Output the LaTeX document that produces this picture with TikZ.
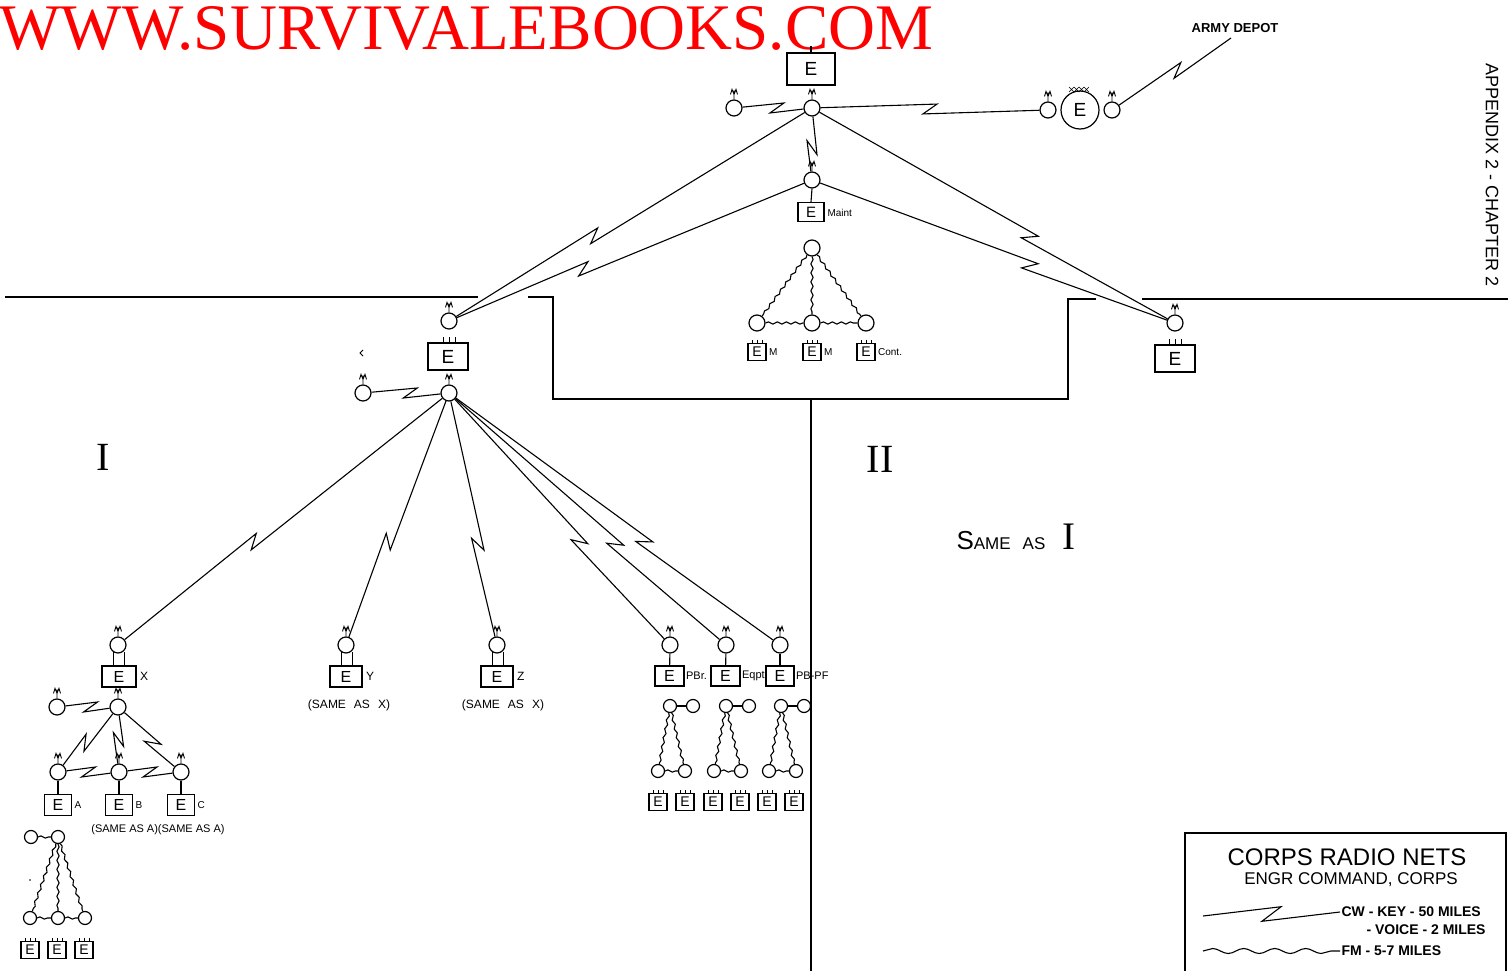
\documentclass[tikz,border=0pt]{standalone}
\usepackage{fontspec}
\setmainfont{Liberation Sans}
\newfontfamily\serifrm{Liberation Serif}
\usetikzlibrary{calc,decorations.pathmorphing}
\newcommand\fsz[1]{\fontsize{#1}{#1}\selectfont}
% zigzag (CW) connector: [size]{from}{to}{fraction}
\newcommand\zz[4][1]{%
  \path ($(#2)!#4!(#3)$) coordinate (zzp);
  \path ($(zzp)!#1*7pt!(#3)$) coordinate (zza) ($(zzp)!-#1*7pt!(#3)$) coordinate (zzb);
  \draw (#2) -- ($(zza)!#1*5pt!90:(#3)$) -- ($(zzb)!#1*5pt!-90:(#3)$) -- (#3);}
% small box with ticks on top
\newcommand\sbx[3]{%
  \node[sbox] (#1) at (#2,#3) {E};
  \draw[line width=0.8pt] (#1.north) ++(-5,0) -- ++(0,-3) (#1.north) -- ++(0,-3) (#1.north) ++(5,0) -- ++(0,-3);}
\tikzset{
  rcirc/.style={circle, draw, line width=1.2pt, minimum size=16pt, inner sep=0pt},
  scirc/.style={circle, draw, line width=1.2pt, minimum size=13pt, inner sep=0pt},
  ebox/.style={draw, line width=1.2pt, minimum width=40pt, minimum height=27pt, inner sep=0pt, font=\fsz{19}},
  mbox/.style={draw, line width=1.2pt, minimum width=33pt, minimum height=21pt, inner sep=0pt, font=\fsz{16}},
  sbox/.style={draw, line width=1.2pt, minimum width=18pt, minimum height=17pt, inner sep=0pt, font=\fsz{14}},
  fmw/.style={decorate, decoration={snake, amplitude=1.1pt, segment length=9pt}},
  lbl/.style={inner sep=0pt, anchor=west, font=\fsz{11}},
  ant/.pic={\draw[line width=0.9pt] (0,0)--(0,-9) (-3.5,-5)--(-2,-10)--(0,-5)--(2,-10)--(3.5,-5);},
}
\begin{document}
\begin{tikzpicture}[x=1pt,y=-1pt,line width=1.1pt]
\fill[white] (0,0) rectangle (1508,971);
\useasboundingbox (0,0) rectangle (1508,971);

% watermark
\node[anchor=base west, inner sep=0pt, text=red, font=\serifrm\fsz{65}] (wm) at (-1,50) {WWW.SURVIVALEBOOKS.COM};

% ---------- top hub ----------
\node[ebox, minimum width=48pt, minimum height=32pt] (topE) at (811,69) {E};
\coordinate (topEc) at (811,46);
\draw (topE.north) -- (topEc);
\node[rcirc] (T) at (812,108) {};
\pic at (T.north) {ant};
\node[rcirc] (TL) at (734,108) {};
\pic at (TL.north) {ant};
\zz{TL}{T}{0.55}

\node[rcirc] (D1) at (1048,110) {};
\pic at (D1.north) {ant};
\node[circle, draw, line width=1.2pt, minimum size=38pt, inner sep=0pt, font=\fsz{19}] (DE) at (1080,110) {E};
\node[rcirc] (D2) at (1112,110) {};
\pic at (D2.north) {ant};
\foreach \i in {0,1,2,3} {\draw[line width=0.6pt] ({1069+5*\i},87) -- ({1074+5*\i},92) ({1069+5*\i},92) -- ({1074+5*\i},87);}
\zz{T}{D1}{0.5}
\node[font=\bfseries\fsz{13}] (AD) at (1235,28) {ARMY DEPOT};
\coordinate (ADc) at (1231,38);
\zz{D2}{ADc}{0.55}

\node[rcirc] (M) at (812,180) {};
\pic at (M.north) {ant};
\zz{T}{M}{0.55}
\node[ebox, minimum width=26pt, minimum height=19pt, font=\fsz{15}] (ME) at (811,212) {E};
\draw (M.south) -- (ME.north);
\node[lbl, font=\fsz{10}] at (827,213) {Maint};

% triangle under Maint
\node[rcirc] (Ta) at (812,248) {};
\node[rcirc] (Tb) at (757,323) {};
\node[rcirc] (Tc) at (812,323) {};
\node[rcirc] (Td) at (866,323) {};
\draw[fmw] (Ta) -- (Tb);
\draw[fmw] (Ta) -- (Tc);
\draw[fmw] (Ta) -- (Td);
\draw[fmw] (Tb) -- (Tc);
\draw[fmw] (Tc) -- (Td);
\sbx{sm1}{757}{352}
\sbx{sm2}{812}{352}
\sbx{sm3}{866}{352}
\node[lbl, font=\fsz{10}] at ([xshift=2pt]sm1.east) {M};
\node[lbl, font=\fsz{10}] at ([xshift=2pt]sm2.east) {M};
\node[lbl, font=\fsz{10}] at ([xshift=2pt]sm3.east) {Cont.};

% ---------- area boundaries ----------
\draw (5,297) -- (478,297);
\draw (528,297) -- (553,297) -- (553,399) -- (1068,399) -- (1068,299) -- (1096,299);
\draw (1142,299) -- (1508,299);
\draw (811,399) -- (811,971);

% ---------- left division ----------
\node[rcirc] (L1) at (449,321) {};
\pic at (L1.north) {ant};
\zz{T}{L1}{0.6}
\zz{M}{L1}{0.63}
\draw[line width=0.9pt] (443,337) -- (443,343) (449,337) -- (449,343) (455,337) -- (455,343);
\node[ebox] (LE) at (448,356.5) {E};
\node[rcirc] (L2) at (449,393) {};
\pic at (L2.north) {ant};
\node[rcirc] (LL) at (363,393) {};
\pic at (LL.north) {ant};
\zz{LL}{L2}{0.55}
\draw[line width=0.8pt] (363,350) -- (360,353) -- (363,356);

% ---------- right division ----------
\node[rcirc] (R1) at (1175,323) {};
\pic at (R1.north) {ant};
\zz{T}{R1}{0.6}
\zz{M}{R1}{0.6}
\draw[line width=0.9pt] (1169,339) -- (1169,345) (1175,339) -- (1175,345) (1181,339) -- (1181,345);
\node[ebox] (RE) at (1175,358.5) {E};

% ---------- roman numerals ----------
\node[font=\serifrm\fsz{40}] (r1) at (103,457) {I};
\node[font=\serifrm\fsz{40}] (r2) at (880,459) {II};
\node[anchor=base west, inner sep=0pt] (same) at (956,549) {{\fsz{26}S}{\fsz{17}AME\hspace{12pt}AS}};
\node[anchor=base, inner sep=0pt, font=\serifrm\fsz{39}] (r3) at (1069,549) {I};

% ---------- lower units ----------
\node[rcirc] (X) at (118,645) {};
\node[rcirc] (Y) at (346,645) {};
\node[rcirc] (Z) at (497,645) {};
\node[rcirc] (P1) at (670,645) {};
\node[rcirc] (P2) at (726,645) {};
\node[rcirc] (P3) at (780,645) {};
\foreach \n in {X,Y,Z,P1,P2,P3} {\pic at (\n.north) {ant};}
\zz{L2}{X}{0.59}
\zz{L2}{Y}{0.59}
\zz{L2}{Z}{0.6}
\zz{L2}{P1}{0.59}
\zz{L2}{P2}{0.6}
\zz{L2}{P3}{0.59}

% X
\node[mbox, minimum width=34pt] (XE) at (119,676.5) {E};
\draw[line width=0.9pt] (113,652) -- (113,666) (124,652) -- (124,666);
\node[lbl, font=\fsz{12}] at ([xshift=3pt]XE.east) {X};
\node[rcirc] (Xh) at (118,707) {};
\pic at (Xh.north) {ant};
\node[rcirc] (XL) at (57,707) {};
\pic at (XL.north) {ant};
\zz{XL}{Xh}{0.55}
\node[rcirc] (A) at (58,772) {};
\node[rcirc] (B) at (119,772) {};
\node[rcirc] (C) at (181,772) {};
\foreach \n in {A,B,C} {\pic at (\n.north) {ant};}
\zz{Xh}{A}{0.55}
\zz{Xh}{B}{0.5}
\zz{Xh}{C}{0.55}
\zz{A}{B}{0.5}
\zz{B}{C}{0.5}
\node[mbox, minimum width=27pt] (AE) at (58,805) {E};
\node[mbox, minimum width=27pt] (BE) at (119,805) {E};
\node[mbox, minimum width=27pt] (CE) at (181,805) {E};
\draw (A) -- (AE);
\draw (B) -- (BE);
\draw (C) -- (CE);
\node[lbl, font=\fsz{10}] at ([xshift=2pt]AE.east) {A};
\node[lbl, font=\fsz{10}] at ([xshift=2pt]BE.east) {B};
\node[lbl, font=\fsz{10}] at ([xshift=2pt]CE.east) {C};
\node[inner sep=0pt, font=\fsz{11}] (sameA) at (158,830) {(SAME AS A)(SAME AS A)};

% bottom-left triangle
\node[scirc] (Pa) at (58,837) {};
\node[scirc] (Pl) at (31,837) {};
\node[scirc] (Qa) at (30,918) {};
\node[scirc] (Qb) at (58,918) {};
\node[scirc] (Qc) at (85,918) {};
\draw[fmw] (Pl) -- (Pa);
\draw[fmw] (Pa) -- (Qa);
\draw[fmw] (Pa) -- (Qb);
\draw[fmw] (Pa) -- (Qc);
\draw[fmw] (Qa) -- (Qb);
\draw[fmw] (Qb) -- (Qc);
\fill (30,880) circle (0.9);
\sbx{q1}{30}{950}
\sbx{q2}{57}{950}
\sbx{q3}{84}{950}

% Y, Z
\node[mbox, minimum width=32pt] (YE) at (346,676.5) {E};
\draw[line width=0.9pt] (341,652) -- (341,666) (352,652) -- (352,666);
\node[lbl, font=\fsz{12}] at ([xshift=3pt]YE.east) {Y};
\node[inner sep=0pt, font=\fsz{12}] at (349,705) {(SAME\hspace{8pt}AS\hspace{8pt}X)};
\node[mbox, minimum width=32pt] (ZE) at (497,676.5) {E};
\draw[line width=0.9pt] (492,652) -- (492,666) (503,652) -- (503,666);
\node[lbl, font=\fsz{12}] at ([xshift=3pt]ZE.east) {Z};
\node[inner sep=0pt, font=\fsz{12}] at (503,705) {(SAME\hspace{8pt}AS\hspace{8pt}X)};

% PBr, Eqpt, PB-PF
\node[mbox, minimum width=29pt, minimum height=20pt] (P1E) at (669.5,676) {E};
\node[mbox, minimum width=29pt, minimum height=20pt] (P2E) at (725.5,676) {E};
\node[mbox, minimum width=28pt, minimum height=20pt] (P3E) at (780,676) {E};
\draw (P1) -- (P1E);
\draw (P2) -- (P2E);
\draw (P3) -- (P3E);
\node[lbl, font=\fsz{11}] at ([xshift=1pt]P1E.east) {PBr.};
\node[lbl, font=\fsz{11}] at ([xshift=1pt]P2E.east) {Eqpt};
\node[lbl, font=\fsz{11}] at ([xshift=1pt]P3E.east) {PB-PF};

\foreach \k/\x in {1/670,2/726,3/781} {
  \node[scirc] (u\k) at (\x,706) {};
  \node[scirc] (v\k) at ({\x+23},706) {};
  \node[scirc] (w\k) at ({\x-12},771) {};
  \node[scirc] (z\k) at ({\x+15},771) {};
  \draw (u\k) -- (v\k);
  \draw[fmw] (u\k) -- (w\k);
  \draw[fmw] (u\k) -- (z\k);
  \draw[fmw] (w\k) -- (z\k);
}
\sbx{b1}{658}{802}
\sbx{b2}{685}{802}
\sbx{b3}{713}{802}
\sbx{b4}{740}{802}
\sbx{b5}{767}{802}
\sbx{b6}{794}{802}

% ---------- side title ----------
\node[rotate=-90, font=\fsz{18}] (app) at (1492,175) {APPENDIX 2 - CHAPTER 2};

% ---------- legend ----------
\draw (1185,990) -- (1185,833) -- (1506,833) -- (1506,990);
\node[font=\fsz{24}] (lt) at (1347,857) {CORPS RADIO NETS};
\node[font=\fsz{17}] (ls) at (1351,880) {ENGR COMMAND, CORPS};
\coordinate (cwa) at (1203,916);
\coordinate (cwb) at (1340,912);
\zz[1.4]{cwa}{cwb}{0.5}
\node[lbl, font=\bfseries\fsz{14}] at (1341,912) {CW - KEY - 50 MILES};
\node[lbl, font=\bfseries\fsz{14}] at (1366,930) {- VOICE - 2 MILES};
\coordinate (fma) at (1203,951);
\coordinate (fmb) at (1340,951);
\draw[decorate, decoration={snake, amplitude=2.5pt, segment length=31pt}] (fma) -- (fmb);
\node[lbl, font=\bfseries\fsz{14}] at (1341,951) {FM - 5-7 MILES};
\end{tikzpicture}
\end{document}
